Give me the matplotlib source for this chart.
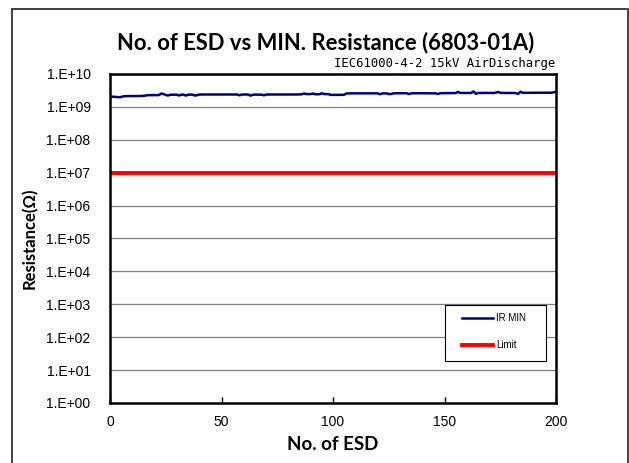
import matplotlib
matplotlib.use("Agg")
import matplotlib.pyplot as plt
from matplotlib.patches import Rectangle

# resistance readings in units of 1e9 ohm, one per ESD shot (0..200)
ir_min_g = [
    2.05, 2.05, 2.02, 1.98, 1.97, 1.99, 2.10, 2.12, 2.13, 2.13,
    2.14, 2.14, 2.13, 2.14, 2.15, 2.16, 2.22, 2.27, 2.28, 2.28,
    2.29, 2.28, 2.30, 2.55, 2.45, 2.30, 2.22, 2.34, 2.35, 2.35,
    2.34, 2.22, 2.35, 2.36, 2.20, 2.34, 2.36, 2.35, 2.22, 2.26,
    2.37, 2.38, 2.38, 2.38, 2.39, 2.38, 2.38, 2.37, 2.38, 2.38,
    2.39, 2.38, 2.38, 2.38, 2.38, 2.39, 2.37, 2.38, 2.25, 2.37,
    2.38, 2.38, 2.37, 2.20, 2.34, 2.36, 2.36, 2.36, 2.35, 2.25,
    2.37, 2.38, 2.38, 2.38, 2.38, 2.39, 2.38, 2.38, 2.38, 2.39,
    2.38, 2.38, 2.38, 2.39, 2.38, 2.40, 2.42, 2.55, 2.46, 2.44,
    2.45, 2.55, 2.42, 2.42, 2.43, 2.58, 2.46, 2.45, 2.42, 2.32,
    2.32, 2.31, 2.32, 2.32, 2.32, 2.35, 2.56, 2.58, 2.58, 2.58,
    2.57, 2.58, 2.58, 2.59, 2.58, 2.58, 2.58, 2.57, 2.58, 2.58,
    2.58, 2.42, 2.56, 2.58, 2.58, 2.45, 2.46, 2.58, 2.60, 2.60,
    2.59, 2.60, 2.60, 2.60, 2.45, 2.58, 2.60, 2.60, 2.61, 2.60,
    2.60, 2.60, 2.59, 2.60, 2.60, 2.60, 2.58, 2.45, 2.60, 2.62,
    2.62, 2.62, 2.61, 2.62, 2.62, 2.63, 2.85, 2.66, 2.65, 2.65,
    2.64, 2.65, 2.66, 2.95, 2.50, 2.64, 2.65, 2.65, 2.65, 2.66,
    2.65, 2.65, 2.65, 2.70, 2.85, 2.67, 2.65, 2.65, 2.65, 2.66,
    2.65, 2.65, 2.62, 2.48, 2.90, 2.68, 2.68, 2.67, 2.68, 2.68,
    2.68, 2.69, 2.68, 2.68, 2.68, 2.68, 2.69, 2.68, 2.70, 2.80,
    2.85,
]
limit_ohm = 1e7
shots = list(range(len(ir_min_g)))
ir_min = [v * 1e9 for v in ir_min_g]

y_ticks = [10.0 ** k for k in range(0, 11)]
y_tick_labels = ["1.E+%02d" % k for k in range(0, 11)]
x_ticks = [0, 50, 100, 150, 200]

fig = plt.figure(figsize=(6.29, 4.63), dpi=100)
ax = fig.add_axes([0.1749, 0.1296, 0.7092, 0.7106])

# outer chart frame
fig.patches.append(Rectangle((12 / 629, -0.05), 616 / 629, 1.05 - 9 / 463,
                             transform=fig.transFigure, fill=False,
                             edgecolor="#333333", linewidth=1.3))

ax.plot(shots, ir_min, color="#000080", linewidth=1.8, label="IR MIN")
ax.plot([shots[0], shots[-1]], [limit_ohm, limit_ohm], color="#ff0000",
        linewidth=2.8, label="Limit")

ax.set_yscale("log")
ax.set_ylim(1, 1e10)
ax.set_xlim(0, 200)
ax.set_yticks(y_ticks)
ax.set_yticklabels(y_tick_labels)
ax.minorticks_off()
ax.set_xticks(x_ticks)
ax.tick_params(axis="x", direction="in", length=4, width=1, pad=9)
ax.tick_params(axis="y", length=0, pad=14)
for lab in ax.get_xticklabels() + ax.get_yticklabels():
    lab.set_fontfamily("Liberation Sans")
    lab.set_fontsize(10)
ax.yaxis.grid(True, color="#808080", linewidth=0.9)
ax.set_axisbelow(True)
for sp in ax.spines.values():
    sp.set_linewidth(1.8)

ax.set_xlabel("No. of ESD", fontfamily="Lato", fontweight="bold",
              fontsize=13.5, labelpad=5)
ax.set_ylabel("Resistance(Ω)", fontfamily="Lato", fontweight="bold",
              fontsize=12, labelpad=6)

fig.text(0.517, 0.909, "No. of ESD vs MIN. Resistance (6803-01A)",
         ha="center", va="center", fontfamily="Lato", fontweight="bold",
         fontsize=15.8)
fig.text(555 / 629, 1 - 63 / 463, "IEC61000-4-2 15kV AirDischarge",
         ha="right", va="center", fontfamily="DejaVu Sans Mono", fontsize=8.8)

# legend box drawn separately (wider side padding than matplotlib allows)
ax.add_patch(Rectangle((0.751, 0.1277), 0.2265, 0.170, transform=ax.transAxes,
                       facecolor="white", edgecolor="black", linewidth=0.8,
                       zorder=4))
leg = ax.legend(loc="upper left", bbox_to_anchor=(0.789, 0.2736),
                borderaxespad=0, borderpad=0, frameon=False,
                prop={"family": "Liberation Sans", "size": 7},
                handlelength=3.2, handletextpad=0.3, labelspacing=1.75)
leg.set_zorder(5)

fig.savefig("out.png", dpi=100)
